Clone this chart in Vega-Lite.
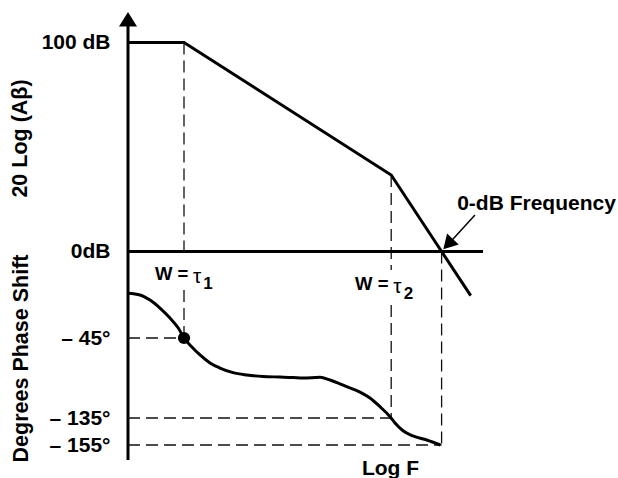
{
  "$schema": "https://vega.github.io/schema/vega-lite/v6.json",
  "width": 490,
  "height": 478,
  "autosize": {"type": "none"},
  "padding": {"left": 128, "top": 0, "right": 0, "bottom": 0},
  "background": "white",
  "config": {
    "view": {"stroke": null},
    "font": "Liberation Sans",
    "text": {"font": "Liberation Sans", "color": "black"}
  },
  "datasets": {
    "gain": [
      {"f": 0, "db": 100},
      {"f": 1, "db": 100},
      {"f": 4.7, "db": 36.6},
      {"f": 5.6, "db": 0},
      {"f": 6.12, "db": -21.1}
    ],
    "axisLines": [
      {"f": 0, "db": 108, "f2": 0, "db2": -99.8},
      {"f": 0, "db": 0, "f2": 6.34, "db2": 0}
    ],
    "gainDashes": [
      {"f": 1, "db": 100, "f2": 1, "db2": -3.1},
      {"f": 4.7, "db": 36.6, "f2": 4.7, "db2": -8.85}
    ],
    "yArrow": [{"f": 0, "db": 111.15}],
    "freqArrowLine": [{"f": 6.196, "db": 17.46, "f2": 5.78, "db2": 5.3}],
    "freqArrowHead": [{"f": 5.716, "db": 3.49}],
    "bigText": [{"f": 7.295, "db": 19.86, "t": "0-dB Frequency"}],
    "wText": [
      {"f": 0.482, "db": -13.78, "t": "W ="},
      {"f": 4.054, "db": -18.56, "t": "W ="}
    ],
    "tauText": [
      {"f": 1.161, "db": -14.93, "t": "τ"},
      {"f": 4.738, "db": -19.71, "t": "τ"}
    ],
    "subText": [
      {"f": 1.345, "db": -17.8, "t": "1"},
      {"f": 4.922, "db": -22.58, "t": "2"}
    ],
    "phase": [
      {"f": 0, "ph": 5.3},
      {"f": 0.214, "ph": 3.4},
      {"f": 0.393, "ph": -2.3},
      {"f": 0.571, "ph": -11.3},
      {"f": 0.75, "ph": -22.5},
      {"f": 0.898, "ph": -33.8},
      {"f": 1.0, "ph": -45},
      {"f": 1.137, "ph": -54.8},
      {"f": 1.286, "ph": -64.1},
      {"f": 1.464, "ph": -73.1},
      {"f": 1.643, "ph": -78.8},
      {"f": 1.875, "ph": -84.0},
      {"f": 2.12, "ph": -86.6},
      {"f": 2.411, "ph": -88.3},
      {"f": 2.714, "ph": -88.9},
      {"f": 2.946, "ph": -89.4},
      {"f": 3.125, "ph": -90},
      {"f": 3.429, "ph": -89.2},
      {"f": 3.607, "ph": -92.3},
      {"f": 3.905, "ph": -99.8},
      {"f": 4.143, "ph": -105.8},
      {"f": 4.321, "ph": -112.5},
      {"f": 4.5, "ph": -122.3},
      {"f": 4.679, "ph": -133.5},
      {"f": 4.768, "ph": -138.7},
      {"f": 4.911, "ph": -144.4},
      {"f": 5.089, "ph": -148.3},
      {"f": 5.334, "ph": -151.3},
      {"f": 5.58, "ph": -155}
    ],
    "phaseDashes": [
      {"f": 1, "ph": 9, "f2": 1, "ph2": -45},
      {"f": 4.7, "ph": -7.9, "f2": 4.7, "ph2": -135},
      {"f": 5.6, "ph": 52.3, "f2": 5.6, "ph2": -155},
      {"f": 0, "ph": -45, "f2": 1, "ph2": -45},
      {"f": 0, "ph": -135, "f2": 4.7, "ph2": -135},
      {"f": 0, "ph": -155, "f2": 5.6, "ph2": -155}
    ],
    "dot": [{"f": 1, "ph": -45}]
  },
  "resolve": {"scale": {"y": "independent"}, "axis": {"y": "independent"}},
  "layer": [
    {
      "encoding": {
        "x": {
          "field": "f", "type": "quantitative",
          "scale": {"domain": [0, 8.75], "nice": false, "zero": false},
          "axis": {
            "title": "Log F", "labels": false, "ticks": false, "domain": false, "grid": false,
            "titleX": 262, "titleY": -3.5, "titleAlign": "center", "titleBaseline": "alphabetic",
            "titleFont": "Liberation Sans", "titleFontSize": 21, "titleFontWeight": "bold", "titleColor": "black"
          }
        },
        "y": {
          "field": "db", "type": "quantitative",
          "scale": {"domain": [-108.37, 120.33], "nice": false, "zero": false},
          "axis": {
            "orient": "left", "values": [0, 100],
            "labelExpr": "datum.value == 100 ? '100 dB' : '0dB'",
            "ticks": false, "tickSize": 0, "domain": false, "grid": false, "labelOverlap": false,
            "labelPadding": 18, "labelFont": "Liberation Sans", "labelFontSize": 21, "labelFontWeight": "bold",
            "labelColor": "black", "labelBaseline": "middle",
            "title": "20 Log (Aβ)", "titleX": -107.5, "titleY": 138, "titleAngle": -90,
            "titleAlign": "center", "titleBaseline": "middle",
            "titleFont": "Liberation Sans", "titleFontSize": 21.5, "titleFontWeight": "bold", "titleColor": "black"
          }
        }
      },
      "layer": [
        {
          "data": {"name": "gainDashes"},
          "mark": {"type": "rule", "color": "#111", "strokeWidth": 1.3, "strokeDash": [12, 6]},
          "encoding": {"x2": {"field": "f2"}, "y2": {"field": "db2"}}
        },
        {
          "data": {"name": "axisLines"},
          "mark": {"type": "rule", "color": "black", "strokeWidth": 3},
          "encoding": {"x2": {"field": "f2"}, "y2": {"field": "db2"}}
        },
        {
          "data": {"name": "gain"},
          "mark": {"type": "line", "color": "black", "strokeWidth": 3},
          "encoding": {}
        },
        {
          "data": {"name": "yArrow"},
          "mark": {"type": "point", "shape": "M0,-0.8L1,0.8L-1,0.8Z", "size": 324, "filled": true, "color": "black", "opacity": 1, "strokeWidth": 0},
          "encoding": {}
        },
        {
          "data": {"name": "freqArrowLine"},
          "mark": {"type": "rule", "color": "black", "strokeWidth": 1.5},
          "encoding": {"x2": {"field": "f2"}, "y2": {"field": "db2"}}
        },
        {
          "data": {"name": "freqArrowHead"},
          "mark": {"type": "point", "shape": "M0,-0.875L1,0.875L-1,0.875Z", "size": 256, "angle": 223.3, "filled": true, "color": "black", "opacity": 1, "strokeWidth": 0},
          "encoding": {}
        },
        {
          "data": {"name": "bigText"},
          "mark": {"type": "text", "align": "center", "baseline": "alphabetic", "fontSize": 21, "fontWeight": "bold", "color": "black"},
          "encoding": {"text": {"field": "t"}}
        },
        {
          "data": {"name": "wText"},
          "mark": {"type": "text", "align": "left", "baseline": "alphabetic", "fontSize": 18.5, "fontWeight": "bold", "color": "black"},
          "encoding": {"text": {"field": "t"}}
        },
        {
          "data": {"name": "tauText"},
          "mark": {"type": "text", "align": "left", "baseline": "alphabetic", "fontSize": 21, "fontWeight": "normal", "color": "black"},
          "encoding": {"text": {"field": "t"}}
        },
        {
          "data": {"name": "subText"},
          "mark": {"type": "text", "align": "left", "baseline": "alphabetic", "fontSize": 17, "fontWeight": "bold", "color": "black"},
          "encoding": {"text": {"field": "t"}}
        }
      ]
    },
    {
      "encoding": {
        "x": {
          "field": "f", "type": "quantitative",
          "scale": {"domain": [0, 8.75], "nice": false, "zero": false},
          "axis": {
            "title": "Log F", "labels": false, "ticks": false, "domain": false, "grid": false,
            "titleX": 262, "titleY": -3.5, "titleAlign": "center", "titleBaseline": "alphabetic",
            "titleFont": "Liberation Sans", "titleFontSize": 21, "titleFontWeight": "bold", "titleColor": "black"
          }
        },
        "y": {
          "field": "ph", "type": "quantitative",
          "scale": {"domain": [-190, -155, -135, 335.25], "range": [478, 445, 418, 0], "nice": false, "zero": false},
          "axis": {
            "orient": "left", "values": [-45, -135, -155],
            "labelExpr": "'– ' + abs(datum.value) + '°'",
            "ticks": false, "tickSize": 0, "domain": false, "grid": false, "labelOverlap": false,
            "labelPadding": 18, "labelFont": "Liberation Sans", "labelFontSize": 21, "labelFontWeight": "bold",
            "labelColor": "black", "labelBaseline": "middle",
            "title": "Degrees Phase Shift", "titleX": -106.5, "titleY": 358, "titleAngle": -90,
            "titleAlign": "center", "titleBaseline": "middle",
            "titleFont": "Liberation Sans", "titleFontSize": 21.5, "titleFontWeight": "bold", "titleColor": "black"
          }
        }
      },
      "layer": [
        {
          "data": {"name": "phaseDashes"},
          "mark": {"type": "rule", "color": "#111", "strokeWidth": 1.3, "strokeDash": [12, 6]},
          "encoding": {"x2": {"field": "f2"}, "y2": {"field": "ph2"}}
        },
        {
          "data": {"name": "phase"},
          "mark": {"type": "line", "color": "black", "strokeWidth": 3, "interpolate": "monotone"},
          "encoding": {}
        },
        {
          "data": {"name": "dot"},
          "mark": {"type": "point", "shape": "circle", "size": 150, "filled": true, "color": "black", "opacity": 1},
          "encoding": {}
        }
      ]
    }
  ]
}
